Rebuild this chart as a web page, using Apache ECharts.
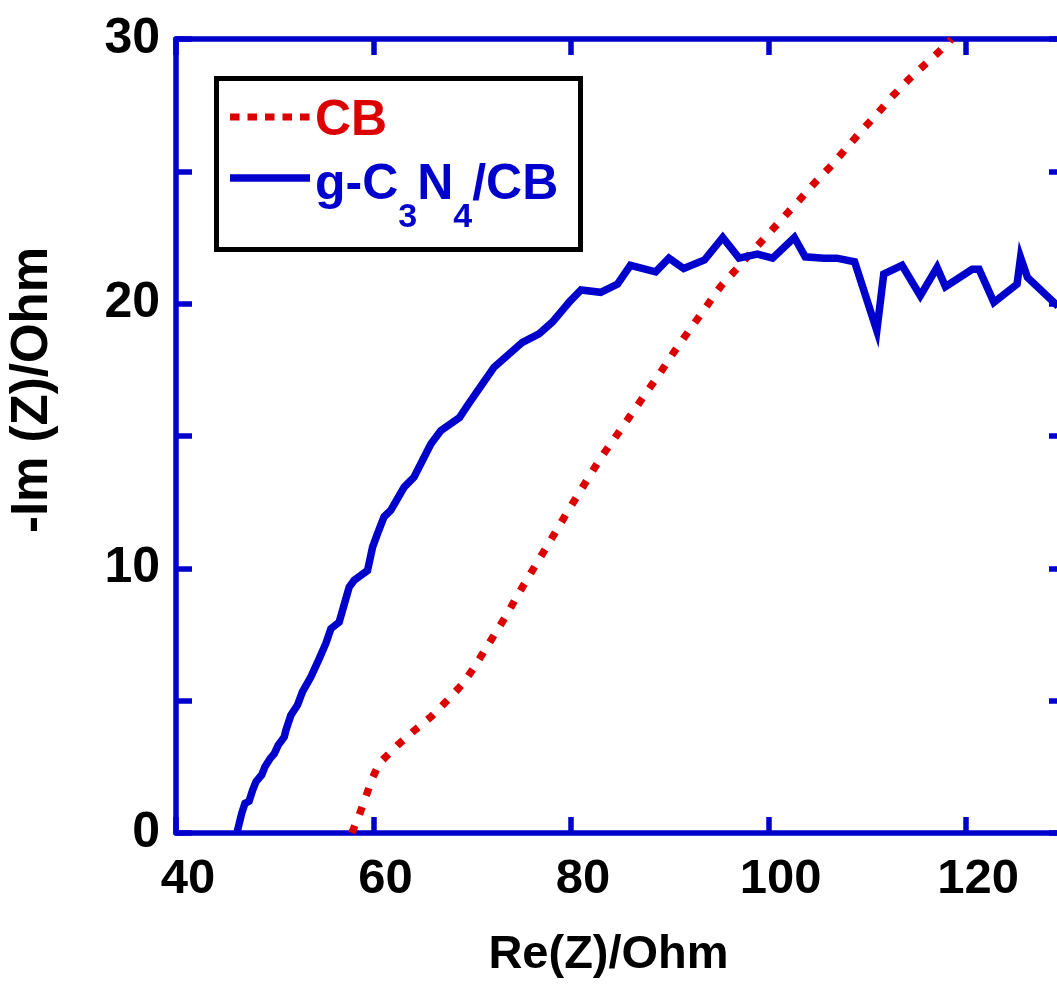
<!DOCTYPE html>
<html>
<head>
<meta charset="utf-8">
<script src="https://cdn.jsdelivr.net/npm/echarts@6/dist/echarts.min.js"></script>
<style>
html,body{margin:0;padding:0;background:#fff;}
#chart{width:1057px;height:992px;}
</style>
</head>
<body>
<div id="chart"></div>
<script>
// ---- data ----
const seriesNames = ['CB', 'g-C3N4/CB'];
const cbX = [57.8, 58.55, 59.22, 59.8, 60.57, 62.43, 64.18, 65.9, 67.5, 69.06, 70.28, 71.36, 72.44, 73.55, 74.57, 75.58, 76.59, 77.66, 78.68, 79.72, 80.8, 81.88, 83.0, 84.24, 85.42, 86.6, 87.82, 89.06, 90.25, 91.4, 92.67, 93.9, 95.2, 96.8, 98.4, 99.96, 101.5, 103.1, 104.7, 106.3, 107.85, 109.4, 111.0, 112.56, 114.2, 116.0, 117.9, 118.5];
const cbY = [0.0, 0.68, 1.37, 2.0, 2.63, 3.32, 3.89, 4.42, 5.02, 5.65, 6.31, 6.97, 7.62, 8.29, 8.98, 9.61, 10.24, 10.89, 11.54, 12.19, 12.84, 13.5, 14.17, 14.83, 15.46, 16.09, 16.75, 17.41, 18.08, 18.7, 19.36, 20.0, 20.68, 21.33, 22.0, 22.63, 23.26, 23.91, 24.58, 25.2, 25.87, 26.53, 27.18, 27.85, 28.48, 29.1, 29.74, 30.0];
const gcnX = [46.2, 46.65, 46.98, 47.4, 47.76, 48.1, 48.67, 49.0, 49.54, 49.95, 50.35, 50.96, 51.13, 51.63, 52.3, 52.8, 53.66, 54.5, 55.17, 55.68, 56.52, 57.53, 58.04, 59.39, 59.9, 60.4, 61.07, 61.75, 63.1, 64.1, 65.8, 66.8, 68.7, 69.5, 70.9, 72.2, 73.55, 75.07, 76.75, 78.1, 79.9, 81.0, 83.0, 84.7, 86.0, 88.56, 89.9, 91.4, 93.5, 95.35, 97.0, 98.85, 100.4, 102.6, 103.7, 105.6, 106.9, 108.7, 110.95, 111.65, 113.5, 115.35, 117.05, 117.9, 120.6, 121.3, 122.8, 125.15, 125.5, 126.2, 129.3];
const gcnY = [0.05, 0.74, 1.12, 1.2, 1.62, 1.94, 2.19, 2.5, 2.82, 3.0, 3.32, 3.63, 3.89, 4.45, 4.83, 5.33, 5.9, 6.59, 7.16, 7.72, 7.97, 9.29, 9.55, 9.92, 10.8, 11.31, 11.95, 12.2, 13.07, 13.45, 14.7, 15.2, 15.7, 16.15, 16.9, 17.6, 18.04, 18.54, 18.86, 19.3, 20.1, 20.52, 20.43, 20.74, 21.45, 21.2, 21.72, 21.33, 21.65, 22.5, 21.72, 21.87, 21.72, 22.5, 21.77, 21.72, 21.72, 21.58, 18.98, 21.12, 21.45, 20.3, 21.37, 20.64, 21.3, 21.3, 20.05, 20.74, 21.75, 20.99, 19.9];
const xTicks = [40, 60, 80, 100, 120];
const yTicks = [0, 10, 20, 30];
const xTitle = 'Re(Z)/Ohm';
const yTitle = '-Im (Z)/Ohm';

// ---- styling ----
const BLUE = '#0000CD';
const RED = '#DD0000';
const FONT = "'Liberation Sans', Arial, Helvetica, sans-serif";

const pairs = (xs, ys) => xs.map((x, i) => [x, ys[i]]);

const axisLineStyle = { color: BLUE, width: 5.5 };
const tickStyle = { show: true, inside: true, length: 16, lineStyle: { color: BLUE, width: 5.5 } };

const legendRich = {
  r: { color: RED, fontFamily: FONT, fontWeight: 'bold', fontSize: 50, verticalAlign: 'middle', padding: [8, 0, 0, 0] },
  b: { color: BLUE, fontFamily: FONT, fontWeight: 'bold', fontSize: 50, verticalAlign: 'middle', padding: [14, 0, 0, 0] },
  bs: { color: BLUE, fontFamily: FONT, fontWeight: 'bold', fontSize: 34, verticalAlign: 'middle', padding: [80, 0, 0, 0] }
};
const legendFormatter = function (name) {
  if (name === seriesNames[0]) return '{r|CB}';
  return '{b|g-C}{bs|3}{b|N}{bs|4}{b|/CB}';
};
const legendBase = {
  show: true, orient: 'vertical', left: 218, padding: 0, itemGap: 0,
  itemWidth: 80, itemHeight: 130, selectedMode: false,
  itemStyle: { opacity: 0 },
  formatter: legendFormatter,
  textStyle: { fontFamily: FONT, fontWeight: 'bold', fontSize: 50, rich: legendRich }
};

const chart = echarts.init(document.getElementById('chart'), null, { renderer: 'canvas' });

const option = {
  animation: false,
  backgroundColor: '#fff',
  grid: { left: 176, right: -8, top: 39, bottom: 159, containLabel: false, outerBoundsMode: 'none' },
  xAxis: [
    {
      type: 'value', position: 'bottom', min: 40, max: 130, interval: 20,
      axisLine: { show: true, onZero: false, lineStyle: axisLineStyle },
      axisTick: tickStyle,
      splitLine: { show: false },
      axisLabel: {
        show: true, margin: 22, fontSize: 49, fontWeight: 'bold', fontFamily: FONT, color: '#000',
        padding: [0, 0, 0, 24], showMaxLabel: false,
        formatter: v => (xTicks.indexOf(v) >= 0 ? String(v) : '')
      },
      name: xTitle, nameLocation: 'middle', nameGap: 99,
      nameTextStyle: { fontSize: 47, fontWeight: 'bold', fontFamily: FONT, color: '#000', padding: [0, 24, 0, 0] }
    },
    {
      type: 'value', position: 'top', min: 40, max: 130, interval: 20,
      axisLine: { show: true, onZero: false, lineStyle: axisLineStyle },
      axisTick: tickStyle,
      splitLine: { show: false },
      axisLabel: { show: false }
    }
  ],
  yAxis: [
    {
      type: 'value', position: 'left', min: 0, max: 30, interval: 5,
      axisLine: { show: true, onZero: false, lineStyle: axisLineStyle },
      axisTick: tickStyle,
      splitLine: { show: false },
      axisLabel: {
        show: true, margin: 16, fontSize: 50, fontWeight: 'bold', fontFamily: FONT, color: '#000',
        formatter: v => (yTicks.indexOf(v) >= 0 ? String(v) : '')
      },
      name: yTitle, nameLocation: 'middle', nameGap: 118,
      nameTextStyle: { fontSize: 51, fontWeight: 'bold', fontFamily: FONT, color: '#000', padding: [0, 0, 0, 92] }
    },
    {
      type: 'value', position: 'right', min: 0, max: 30, interval: 5,
      axisLine: { show: true, onZero: false, lineStyle: axisLineStyle },
      axisTick: tickStyle,
      splitLine: { show: false },
      axisLabel: { show: false }
    }
  ],
  legend: [
    Object.assign({}, legendBase, {
      top: 65,
      data: [{ name: seriesNames[0], lineStyle: { type: [9.5, 8], width: 7, color: RED }, textStyle: { color: RED } }]
    }),
    Object.assign({}, legendBase, {
      top: 126,
      data: [{ name: seriesNames[1], lineStyle: { type: 'solid', width: 7.5, color: BLUE }, textStyle: { color: BLUE } }]
    })
  ],
  graphic: [
    {
      type: 'rect', left: 214, top: 76, z: 100,
      shape: { x: 0, y: 0, width: 364, height: 171 },
      style: { fill: 'transparent', stroke: '#000', lineWidth: 5 }
    }
  ],
  series: [
    {
      name: seriesNames[0], type: 'line', xAxisIndex: 0, yAxisIndex: 0,
      data: pairs(cbX, cbY), symbol: 'none', smooth: false, clip: true,
      lineStyle: { color: RED, width: 7.5, type: [8, 12] }, itemStyle: { color: RED }, z: 3
    },
    {
      name: seriesNames[1], type: 'line', xAxisIndex: 0, yAxisIndex: 0,
      data: pairs(gcnX, gcnY), symbol: 'none', smooth: false, clip: true,
      lineStyle: { color: BLUE, width: 7.5, type: 'solid', join: 'miter' }, itemStyle: { color: BLUE }, z: 4
    }
  ]
};
chart.setOption(option);
</script>
</body>
</html>
